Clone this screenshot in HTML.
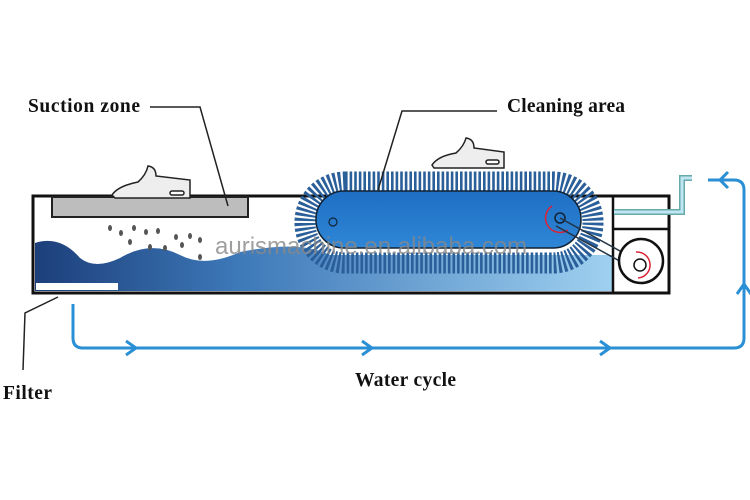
<!DOCTYPE html>
<html><head><meta charset="utf-8"><style>
body{margin:0;background:#fff}
svg{display:block}
text{font-family:"Liberation Serif",serif;font-weight:bold;font-size:19.5px;fill:#111}
</style></head><body>
<svg width="750" height="500" viewBox="0 0 750 500" xmlns="http://www.w3.org/2000/svg">
<defs>
<linearGradient id="w" x1="0" x2="1" y1="0" y2="0">
<stop offset="0" stop-color="#1c3f7a"/><stop offset="0.35" stop-color="#3d78b8"/><stop offset="1" stop-color="#9fd0f0"/>
</linearGradient>
<linearGradient id="b" x1="0" x2="0" y1="0" y2="1">
<stop offset="0" stop-color="#1e6fc4"/><stop offset="1" stop-color="#2f86d6"/>
</linearGradient>
</defs>
<path d="M35 243 Q60 235 80 258 Q95 270 120 258 Q150 240 180 255 Q205 268 240 252 Q300 240 330 255 L600 255 L612 255 L612 291 L35 291 Z" fill="url(#w)"/>
<rect x="36" y="283" width="82" height="7" fill="#fff"/>
<rect x="33" y="196" width="636" height="97" fill="none" stroke="#111" stroke-width="3"/>
<line x1="613" y1="196" x2="613" y2="293" stroke="#111" stroke-width="2.5"/>
<line x1="613" y1="229" x2="669" y2="229" stroke="#111" stroke-width="2.5"/>
<rect x="52" y="197" width="196" height="20" fill="#bdbdbd" stroke="#222" stroke-width="2"/>
<g fill="#555">
<ellipse cx="110" cy="228" rx="2" ry="3"/><ellipse cx="121" cy="233" rx="2" ry="3"/><ellipse cx="134" cy="228" rx="2" ry="3"/><ellipse cx="146" cy="232" rx="2" ry="3"/><ellipse cx="158" cy="231" rx="2" ry="3"/><ellipse cx="176" cy="237" rx="2" ry="3"/><ellipse cx="190" cy="236" rx="2" ry="3"/><ellipse cx="200" cy="240" rx="2" ry="3"/><ellipse cx="130" cy="242" rx="2" ry="3"/><ellipse cx="150" cy="247" rx="2" ry="3"/><ellipse cx="165" cy="248" rx="2" ry="3"/><ellipse cx="182" cy="245" rx="2" ry="3"/><ellipse cx="200" cy="257" rx="2" ry="3"/>
</g>
<rect x="305" y="182" width="288" height="81" rx="40" fill="none" stroke="#2a5f9a" stroke-width="21" stroke-dasharray="2.6 2"/>
<rect x="316" y="191" width="265" height="57" rx="28" fill="url(#b)" stroke="#123" stroke-width="1.5"/>
<circle cx="333" cy="222" r="4" fill="none" stroke="#123" stroke-width="1.2"/>
<circle cx="560" cy="218" r="5" fill="none" stroke="#123" stroke-width="1.5"/>
<path d="M552 206 A12 12 0 1 0 568 230" fill="none" stroke="#d23" stroke-width="1.5"/>
<line x1="560" y1="218" x2="640" y2="262" stroke="#234" stroke-width="1.5"/>
<line x1="556" y1="226" x2="636" y2="270" stroke="#234" stroke-width="1.5"/>
<circle cx="641" cy="261" r="22" fill="#fff" stroke="#111" stroke-width="2.5"/>
<circle cx="640" cy="265" r="6" fill="none" stroke="#111" stroke-width="1.5"/>
<path d="M636 252 A12 12 0 1 1 638 278" fill="none" stroke="#d23" stroke-width="1.5"/>
<path d="M614 212 L682 212 L682 178 L692 178" fill="none" stroke="#6aa" stroke-width="6"/>
<path d="M614 212 L682 212 L682 178 L692 178" fill="none" stroke="#bfe6f2" stroke-width="3"/>
<path d="M73 304 L73 338 Q73 348 83 348 L734 348 Q744 348 744 338 L744 190 Q744 180 734 180 L708 180" fill="none" stroke="#2b8fd6" stroke-width="3"/>
<path d="M126 341 L136 348 L126 355 M362 341 L372 348 L362 355 M600 341 L610 348 L600 355 M737 294 L744 284 L751 294 M728 172 L720 180 L728 188" fill="none" stroke="#2b8fd6" stroke-width="3"/>
<g fill="#eee" stroke="#222" stroke-width="1.5">
<path d="M112 195 Q118 186 138 182 Q146 175 148 166 Q156 167 156 176 L190 180 L190 198 L115 198 Z"/>
<rect x="170" y="191" width="14" height="4" rx="2" fill="#fff"/>
<path d="M432 165 Q438 156 456 153 Q464 146 466 138 Q474 139 474 148 L504 152 L504 168 L434 168 Z"/>
<rect x="486" y="160" width="13" height="4" rx="2" fill="#fff"/>
</g>
<text x="215" y="254" style="font-family:'Liberation Sans',sans-serif;font-weight:normal;font-size:24px;fill:#888;opacity:0.8">aurismachine.en.alibaba.com</text>
<path d="M150 107 L200 107 L228 206" fill="none" stroke="#222" stroke-width="1.5"/>
<path d="M497 111 L402 111 L378 190" fill="none" stroke="#222" stroke-width="1.5"/>
<path d="M58 297 L25 313 L23 370" fill="none" stroke="#222" stroke-width="1.5"/>
<text x="28" y="112" textLength="112">Suction zone</text>
<text x="507" y="112" textLength="118">Cleaning area</text>
<text x="3" y="399" textLength="49">Filter</text>
<text x="355" y="386" textLength="101">Water cycle</text>
</svg>
</body></html>
